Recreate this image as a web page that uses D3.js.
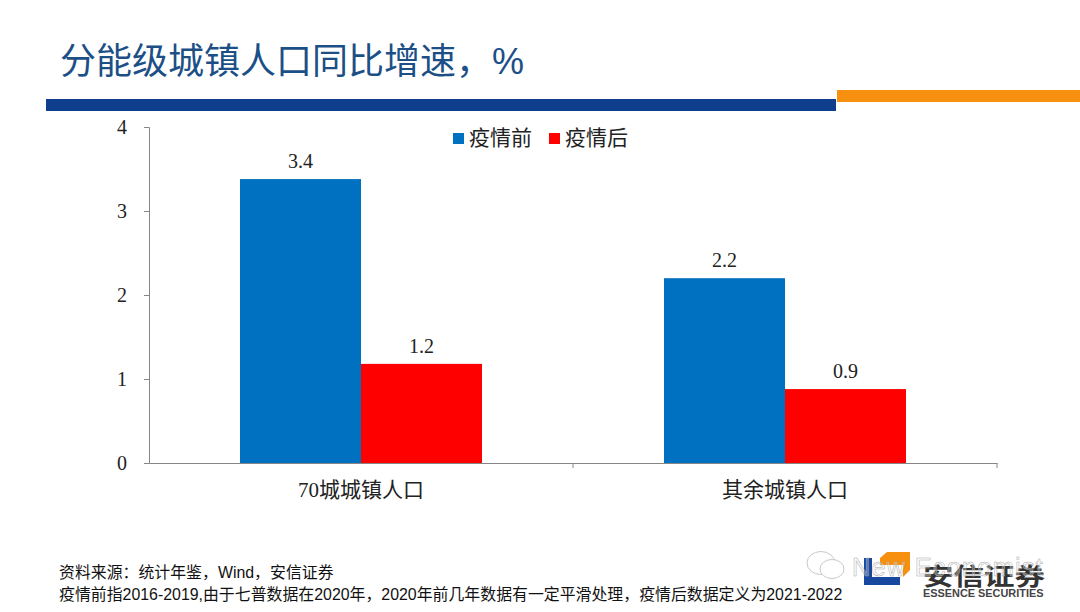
<!DOCTYPE html>
<html>
<head>
<meta charset="utf-8">
<script src="https://d3js.org/d3.v7.min.js"></script>
<style>
html, body { margin: 0; padding: 0; background: #fff; }
svg { display: block; }
.domain, .tick line { stroke: #868686; stroke-width: 1; }
</style>
</head>
<body>
<div id="chart"></div>
<script>
var categories = ["70城城镇人口", "其余城镇人口"];
var seriesNames = ["疫情前", "疫情后"];
var before = [3.38, 2.2];
var after = [1.18, 0.88];
var yTicks = [0, 1, 2, 3, 4];
var colors = ["#0070c0", "#ff0000"];

var serif = "'Liberation Serif','Noto Sans CJK SC',serif";
var sans = "'Liberation Sans','Noto Sans CJK SC',sans-serif";

var svg = d3.select("#chart").append("svg")
    .attr("width", 1080)
    .attr("height", 612);

// title and the two header bars
svg.append("text")
    .attr("x", 60).attr("y", 74)
    .style("font-family", sans)
    .style("font-size", "36px")
    .style("fill", "#1c4f86")
    .text("分能级城镇人口同比增速，%");

svg.append("rect").attr("x", 46).attr("y", 99).attr("width", 790).attr("height", 12).attr("fill", "#0f3f8c");
svg.append("rect").attr("x", 837).attr("y", 90).attr("width", 243).attr("height", 12).attr("fill", "#f7900e");

// scales
var x = d3.scaleBand().domain(categories).range([149, 997]);
var xInner = d3.scaleBand().domain(seriesNames).range([0, x.bandwidth()]).paddingOuter(0.752);
var y = d3.scaleLinear().domain([0, 4]).range([463, 127]);

// axes
var yAxis = svg.append("g")
    .attr("transform", "translate(149,0)")
    .call(d3.axisLeft(y).tickValues(yTicks).tickSize(5).tickPadding(17).tickFormat(d3.format("d")));
yAxis.selectAll("text")
    .style("font-family", serif).style("font-size", "20px").style("fill", "#222");

var xAxis = svg.append("g")
    .attr("transform", "translate(0,463)")
    .call(d3.axisBottom(x).tickSize(0).tickPadding(19));
xAxis.selectAll("text")
    .style("font-family", serif).style("font-size", "21px").style("fill", "#222");
// category separators sit on the band edges, not at the centres
xAxis.selectAll(".edge").data(x.domain().slice(1).concat(["__end"]))
    .enter().append("line").attr("class", "edge")
    .attr("x1", function(d) { return d === "__end" ? 997 : x(d); })
    .attr("x2", function(d) { return d === "__end" ? 997 : x(d); })
    .attr("y1", 0).attr("y2", 5)
    .attr("stroke", "#868686");

// bars
var rows = categories.map(function(c, i) {
    return { category: c, values: [before[i], after[i]] };
});
var groups = svg.selectAll(".group").data(rows).enter().append("g")
    .attr("class", "group")
    .attr("transform", function(d) { return "translate(" + x(d.category) + ",0)"; });

groups.selectAll("rect")
    .data(function(d) { return d.values; })
    .enter().append("rect")
    .attr("x", function(d, i) { return xInner(seriesNames[i]); })
    .attr("width", xInner.bandwidth())
    .attr("y", function(d) { return y(d); })
    .attr("height", function(d) { return y(0) - y(d); })
    .attr("fill", function(d, i) { return colors[i]; });

groups.selectAll("text")
    .data(function(d) { return d.values; })
    .enter().append("text")
    .attr("x", function(d, i) { return xInner(seriesNames[i]) + xInner.bandwidth() / 2; })
    .attr("y", function(d) { return y(d) - 11; })
    .attr("text-anchor", "middle")
    .style("font-family", serif).style("font-size", "20px").style("fill", "#222")
    .text(function(d) { return d3.format(".1f")(d); });

// keep the baseline on top of the bars
xAxis.raise();

// legend
var legendX = [453, 549];
var legend = svg.selectAll(".legend").data(seriesNames).enter().append("g")
    .attr("class", "legend")
    .attr("transform", function(d, i) { return "translate(" + legendX[i] + ",133)"; });
legend.append("rect").attr("width", 11).attr("height", 11).attr("fill", function(d, i) { return colors[i]; });
legend.append("text")
    .attr("x", 16).attr("y", 12)
    .style("font-family", serif).style("font-size", "21px").style("fill", "#222")
    .text(function(d) { return d; });

// source notes
var notes = ["资料来源：统计年鉴，Wind，安信证券", "疫情前指2016-2019,由于七普数据在2020年，2020年前几年数据有一定平滑处理，疫情后数据定义为2021-2022"];
svg.selectAll(".note").data(notes).enter().append("text")
    .attr("class", "note")
    .attr("x", 59)
    .attr("y", function(d, i) { return 578 + i * 22; })
    .style("font-family", sans).style("font-size", "15.9px").style("fill", "#111")
    .text(function(d) { return d; });

// company logo
var logo = svg.append("g");
logo.append("path").attr("d", "M864,558 H872 V577 H900 V585 H864 Z").attr("fill", "#17479e");
logo.append("path").attr("d", "M880,558 L887,552 H910 V570 L903,577 V565 H880 Z").attr("fill", "#f7900e");
logo.append("text").attr("transform", "translate(923,585) scale(1,0.78)")
    .style("font-family", sans).style("font-size", "30.5px").style("font-weight", 700).style("fill", "#333")
    .text("安信证券");
logo.append("text").attr("x", 923).attr("y", 597)
    .style("font-family", sans).style("font-size", "10.9px").style("font-weight", 700).style("fill", "#444")
    .text("ESSENCE SECURITIES");

// watermark
var mark = svg.append("g").attr("fill", "none").attr("stroke", "#c8c8c8").attr("stroke-width", 1);
mark.append("ellipse").attr("cx", 821).attr("cy", 563).attr("rx", 14).attr("ry", 11.5);
mark.append("ellipse").attr("cx", 832).attr("cy", 569).attr("rx", 12).attr("ry", 9.5).attr("fill", "#fff");
svg.append("text").attr("x", 852).attr("y", 576)
    .style("font-family", sans).style("font-size", "25.4px").style("font-weight", 300)
    .style("letter-spacing", "1.2px")
    .style("fill", "#fff").style("fill-opacity", 0.3)
    .style("stroke", "#aaa").style("stroke-width", 0.5)
    .text("New Economist");
</script>
</body>
</html>
